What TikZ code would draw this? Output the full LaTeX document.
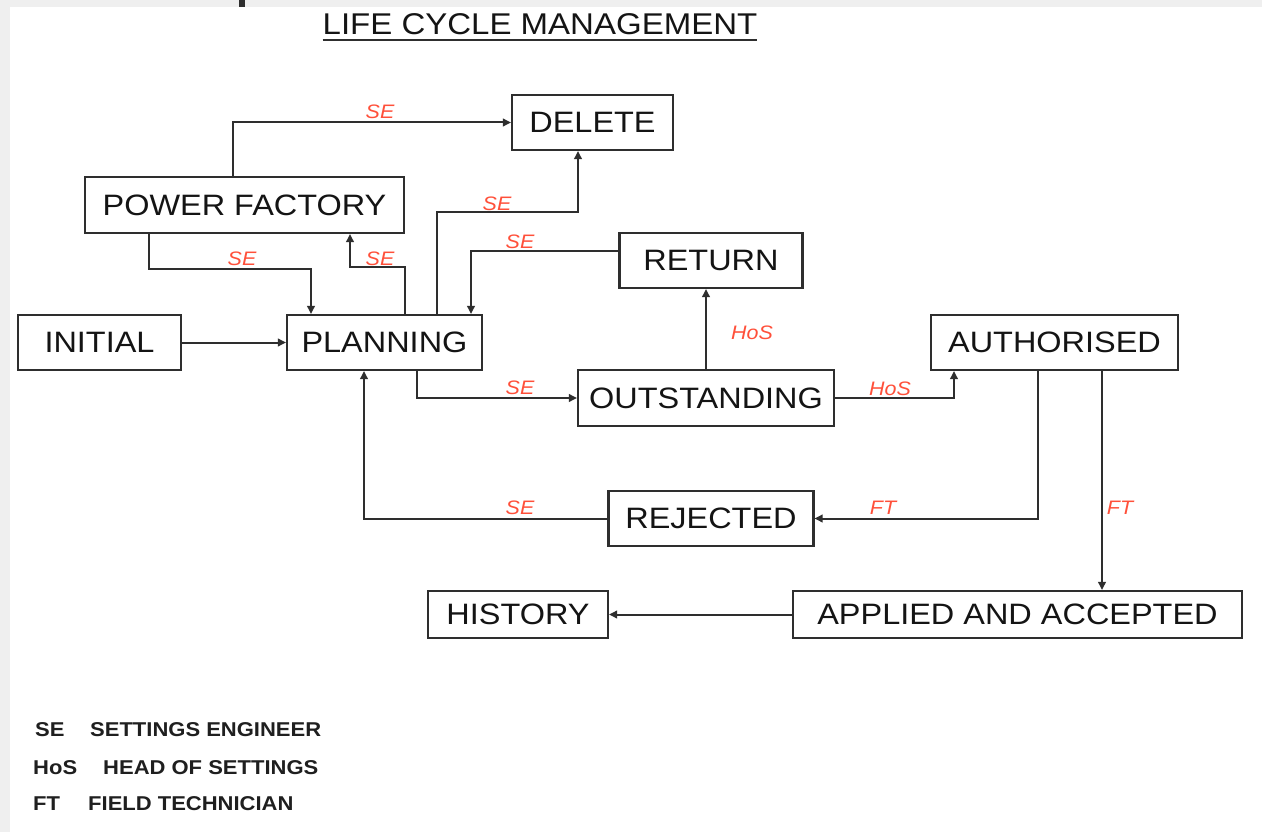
\documentclass[tikz,border=0pt]{standalone}
\usepackage{fontspec}
\setmainfont{Liberation Sans}[FakeStretch=1.1]
\usetikzlibrary{arrows.meta}
\definecolor{pagegray}{HTML}{EFEFEF}
\definecolor{ink}{HTML}{2E2E2E}
\definecolor{rolered}{RGB}{255,80,58}
\begin{document}
\begin{tikzpicture}[x=1pt,y=-1pt,
  state/.style={draw=ink, line width=2.1pt, fill=white, inner sep=0pt,
    font=\fontsize{29.5}{30}\selectfont, text=black!92},
  flow/.style={draw=ink, line width=2pt, -{Triangle[length=8pt,width=7.5pt]}},
  role/.style={text=rolered, font=\fontsize{19.5}{20}\selectfont\itshape, inner sep=0pt},
  legend/.style={anchor=west, inner sep=0pt,
    font=\fontsize{20}{21}\selectfont\bfseries, text=black!88}]

% page frame
\fill[pagegray] (0,0) rectangle (1262,832);
\fill[white] (10,7) rectangle (1262,832);
\fill[ink] (239,0) rectangle (245,7);
\useasboundingbox (0,0) rectangle (1262,832);

% title
\node[anchor=base, inner sep=0pt, font=\fontsize{30}{30}\selectfont, text=black!92]
  (title) at (540,35) {LIFE CYCLE MANAGEMENT};
\draw[ink, line width=2.4pt] ([yshift=-4.8pt]title.base west) -- ([yshift=-4.8pt]title.base east);

% states
\node[state, minimum width=161pt, minimum height=55pt] (delete) at (592.5,122.5) {DELETE};
\node[state, minimum width=319pt, minimum height=56pt] (pf) at (244.5,205) {POWER FACTORY};
\node[state, minimum width=183pt, minimum height=55pt] (return) at (711,260.5) {RETURN};
\node[state, minimum width=163pt, minimum height=55pt] (initial) at (99.5,342.5) {INITIAL};
\node[state, minimum width=195pt, minimum height=55pt] (planning) at (384.5,342.5) {PLANNING};
\node[state, minimum width=247pt, minimum height=55pt] (authorised) at (1054.5,342.5) {AUTHORISED};
\node[state, minimum width=256pt, minimum height=56pt] (outstanding) at (706,398) {OUTSTANDING};
\node[state, minimum width=205pt, minimum height=55pt] (rejected) at (711,518.5) {REJECTED};
\node[state, minimum width=180pt, minimum height=47pt] (history) at (518,614.5) {HISTORY};
\node[state, minimum width=449pt, minimum height=47pt] (applied) at (1017.5,614.5) {APPLIED AND ACCEPTED};

% transitions
\draw[flow] (initial.east) -- (planning.west);
\draw[flow] ([xshift=-11.5pt]pf.north) |- (delete.west);
\draw[flow] ([xshift=-95.5pt]pf.south) -- ++(0,35) -| ([xshift=-73.5pt]planning.north);
\draw[flow] ([xshift=20.5pt]planning.north) -- ++(0,-47) -| ([xshift=105.5pt]pf.south);
\draw[flow] ([xshift=52.5pt]planning.north) -- ++(0,-102) -| ([xshift=-14.5pt]delete.south);
\draw[flow] ([yshift=9.5pt]return.west) -| ([xshift=86.5pt]planning.north);
\draw[flow] ([xshift=32.5pt]planning.south) |- (outstanding.west);
\draw[flow] (outstanding.north) -- (outstanding.north |- return.south);
\draw[flow] (outstanding.east) -| ([xshift=-100.5pt]authorised.south);
\draw[flow] ([xshift=-16.5pt]authorised.south) |- (rejected.east);
\draw[flow] ([xshift=47.5pt]authorised.south) -- ([xshift=47.5pt]authorised.south |- applied.north);
\draw[flow] (rejected.west) -| ([xshift=-20.5pt]planning.south);
\draw[flow] (applied.west) -- (history.east);

% role labels
\node[role] (r1) at (380,112) {SE};
\node[role] (r2) at (242,259) {SE};
\node[role] (r3) at (380,259) {SE};
\node[role] (r4) at (497,204) {SE};
\node[role] (r5) at (520,242) {SE};
\node[role] (r6) at (752,333) {HoS};
\node[role] (r7) at (520,388) {SE};
\node[role] (r8) at (890,389) {HoS};
\node[role] (r9) at (883,508) {FT};
\node[role] (r10) at (1120,508) {FT};
\node[role] (r11) at (520,508) {SE};

% legend
\node[legend] (lse) at (35,730) {SE};
\node[legend] (lsed) at (90,730) {SETTINGS ENGINEER};
\node[legend] (lhos) at (33,768) {HoS};
\node[legend] (lhosd) at (103,768) {HEAD OF SETTINGS};
\node[legend] (lft) at (33,804) {FT};
\node[legend] (lftd) at (88,804) {FIELD TECHNICIAN};
\end{tikzpicture}
\end{document}
